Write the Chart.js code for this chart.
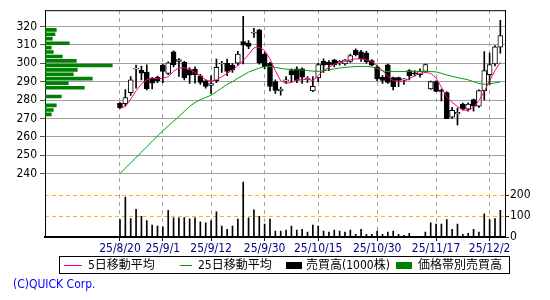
<!DOCTYPE html>
<html>
<head>
<meta charset="utf-8">
<script src="https://cdn.jsdelivr.net/npm/chart.js@4/dist/chart.umd.min.js"></script>
<style>
  body { margin: 0; background: #fff; }
  #wrap { position: relative; width: 550px; height: 300px; }
  #legend { position: absolute; left: 59px; top: 256px; width: 449px; height: 16px; border: 1px solid #000;
            font: 12px 'Liberation Sans Narrow', 'DejaVu Sans Condensed', 'Noto Sans CJK JP', sans-serif; }
  #legend span { position: absolute; top: 0; line-height: 16px; white-space: nowrap; }
  #legend i { position: absolute; display: block; }
  #copy { position: absolute; left: 13px; top: 277px; color: #0000ff;
          font: 12px 'Liberation Sans Narrow', 'DejaVu Sans Condensed', sans-serif; }
</style>
</head>
<body>
<div id="wrap">
  <canvas id="chart" width="550" height="300"></canvas>
  <div id="legend"></div>
  <div id="copy">(C)QUICK Corp.</div>
</div>
<script>
// trading days, 25/8/20 .. 25/12/4
const dates = [
  '25/8/20','25/8/21','25/8/22','25/8/25','25/8/26','25/8/27','25/8/28','25/8/29',
  '25/9/1','25/9/2','25/9/3','25/9/4','25/9/5','25/9/8','25/9/9','25/9/10','25/9/11','25/9/12',
  '25/9/16','25/9/17','25/9/18','25/9/19','25/9/22','25/9/24','25/9/25','25/9/26','25/9/29','25/9/30',
  '25/10/1','25/10/2','25/10/3','25/10/6','25/10/7','25/10/8','25/10/9','25/10/10','25/10/14','25/10/15',
  '25/10/16','25/10/17','25/10/20','25/10/21','25/10/22','25/10/23','25/10/24','25/10/27','25/10/28',
  '25/10/29','25/10/30','25/10/31',
  '25/11/4','25/11/5','25/11/6','25/11/7','25/11/10','25/11/11','25/11/12','25/11/13','25/11/14',
  '25/11/17','25/11/18','25/11/19','25/11/20','25/11/21','25/11/25','25/11/26','25/11/27','25/11/28',
  '25/12/1','25/12/2','25/12/3','25/12/4'
];
const tickDates = ['25/8/20','25/9/1','25/9/12','25/9/30','25/10/15','25/10/30','25/11/17','25/12/2'];

const open  = [278.3,278.0,284.0,296.8,296.2,295.2,291.8,292.4,299.0,294.5,306.2,301.0,300.5,296.5,296.8,293.2,290.5,288.0,
               290.5,299.6,300.0,299.0,300.0,311.8,311.0,316.3,318.2,305.0,300.0,290.0,285.0,290.4,296.0,297.0,297.0,291.2,
               285.0,292.0,301.0,300.5,301.8,300.2,299.6,301.0,307.0,306.2,305.5,301.5,298.0,292.4,299.1,292.2,292.2,291.0,
               296.0,294.6,293.8,295.6,286.0,290.0,285.2,284.0,270.7,272.5,277.8,275.0,280.2,276.7,285.1,293.8,299.6,308.7];
const high  = [278.6,285.7,292.8,299.0,298.5,299.2,292.4,293.0,299.5,300.8,306.8,302.5,301.0,297.5,298.0,294.0,291.0,293.2,
               302.3,301.0,302.3,299.8,306.5,325.5,312.3,319.0,318.5,306.0,300.5,291.0,287.0,292.7,297.0,298.0,297.5,292.7,
               292.7,300.0,302.4,301.5,302.2,301.5,302.0,305.0,307.8,307.0,306.5,302.0,299.0,293.3,299.5,292.5,292.5,291.6,
               296.5,296.0,297.0,299.6,290.3,290.5,286.0,284.5,276.0,275.6,278.3,278.5,280.5,285.5,306.4,305.5,309.6,323.3];
const low   = [275.4,277.0,282.5,286.5,291.0,285.5,286.0,289.5,289.5,293.8,298.0,292.8,291.0,289.0,289.2,288.5,286.5,283.5,
               289.5,295.0,293.3,295.0,299.0,299.7,308.0,314.0,299.5,297.0,285.0,283.6,282.7,289.0,289.6,289.5,289.0,289.6,
               284.5,290.0,295.0,296.0,298.0,299.0,299.0,300.5,304.0,301.0,300.0,298.5,290.5,289.0,289.0,285.5,287.3,288.5,
               291.0,293.0,292.5,295.0,285.8,284.5,279.5,269.8,270.0,266.5,274.5,274.0,274.0,276.0,280.0,288.4,298.5,305.5];
const close = [275.8,281.3,291.0,297.2,294.6,286.2,289.2,290.4,295.5,300.2,299.3,302.0,292.2,293.5,293.8,289.6,287.4,289.0,
               297.8,300.0,295.5,296.4,305.0,309.8,309.2,316.8,300.2,298.2,287.4,285.2,286.0,291.0,293.8,290.6,292.4,291.5,
               287.4,299.3,299.0,299.3,299.3,301.0,301.8,304.2,304.7,302.4,300.8,299.0,291.5,290.6,289.6,287.3,290.6,291.3,
               293.3,294.2,295.6,299.3,290.0,284.7,284.7,269.8,274.4,273.3,275.0,277.8,276.7,285.1,296.0,299.3,309.0,315.0];
// volume, 1000 shares
const volume = [83,190,88,132,98,78,57,52,49,127,91,91,92,87,91,72,67,78,120,52,37,52,86,262,91,130,99,62,86,28,
                28,33,52,33,37,23,57,52,28,23,33,28,23,33,13,37,13,13,28,13,23,28,13,8,18,3,3,23,67,62,
                62,83,37,62,13,18,37,23,111,83,88,127];
// moving averages
const ma5 = [275.5,276.4,280.5,285.0,288.7,291.0,292.0,291.5,291.8,292.7,295.6,297.5,297.5,296.7,295.0,293.3,290.9,290.2,
             291.0,292.7,294.5,296.4,298.7,301.5,304.7,308.4,308.7,306.9,302.4,296.0,290.5,289.0,289.6,291.0,291.0,291.5,
             290.5,293.3,296.0,297.8,299.6,300.0,301.0,301.8,302.4,302.4,301.8,301.0,298.7,296.0,292.9,290.5,290.2,290.2,
             291.5,293.3,294.5,295.0,294.5,292.0,287.0,281.5,278.7,276.4,274.7,274.2,276.0,279.6,284.7,290.5,296.0,300.5];
const ma25 = [240.0,242.9,245.8,248.7,251.6,254.6,257.5,260.4,263.3,265.9,268.4,271.0,273.8,276.5,278.6,280.2,281.4,282.6,
              284.5,286.5,288.5,290.0,291.8,293.5,295.2,296.3,297.4,298.2,298.3,297.8,297.2,296.8,296.6,296.5,296.3,296.0,
              295.7,295.6,295.9,296.4,296.9,297.4,297.8,298.0,298.2,298.3,298.3,298.0,297.2,295.9,295.5,295.5,295.5,295.5,
              295.6,295.6,295.6,295.6,295.5,295.3,294.5,293.6,292.9,292.2,291.6,291.0,290.0,289.0,288.6,288.8,289.3,289.8];
// volume by price band
const bandPrice  = [318.2,315.8,313.4,310.9,308.5,306.1,303.7,301.3,298.8,296.4,294.0,291.6,289.2,286.7,284.3,281.9,279.5,277.1,274.6,272.2];
const bandVolume = [113,100,73,243,63,83,173,313,673,323,283,473,233,393,0,163,0,113,83,63];

const priceTicks = [240,250,260,270,280,290,300,310,320];
const volTicks = [0,100,200];

const FONT = "'Liberation Sans Narrow', 'DejaVu Sans Condensed', sans-serif";
Chart.defaults.font.family = FONT;
Chart.defaults.font.size = 12;

const bodyColors = open.map((o, i) => close[i] >= o ? '#ffffff' : '#000000');

const frame = {
  id: 'frame',
  afterDraw(chart) {
    const {ctx, chartArea: a} = chart;
    ctx.save();
    ctx.strokeStyle = '#000';
    ctx.lineWidth = 1;
    ctx.beginPath();
    ctx.moveTo(a.left, a.top + 0.5);
    ctx.lineTo(a.right, a.top + 0.5);
    ctx.stroke();
    ctx.restore();
  }
};

const chart = new Chart(document.getElementById('chart'), {
  type: 'line',
  data: {
    datasets: [
      { type: 'line', label: '5日移動平均', data: ma5.map((v, i) => ({x: i, y: v})),
        borderColor: '#ff0080', borderWidth: 1, pointRadius: 0, tension: 0, order: 0 },
      { type: 'line', label: '25日移動平均', data: ma25.map((v, i) => ({x: i, y: v})),
        borderColor: '#00a000', borderWidth: 1, pointRadius: 0, tension: 0, order: 0 },
      { type: 'bar', label: 'body', data: open.map((o, i) => ({x: i, y: [o, close[i]]})),
        backgroundColor: bodyColors, borderColor: '#000', borderWidth: 1, borderSkipped: false,
        barThickness: 5, minBarLength: 1, grouped: false, order: 1 },
      { type: 'bar', label: 'wick', data: low.map((l, i) => ({x: i, y: [l, high[i]]})),
        backgroundColor: '#000', barThickness: 1, grouped: false, order: 2 },
      { type: 'bar', label: '売買高(1000株)', yAxisID: 'y2', data: volume.map((v, i) => ({x: i, y: v})),
        backgroundColor: '#000', barThickness: 1, grouped: false, order: 3 },
      { type: 'bar', label: '価格帯別売買高', indexAxis: 'y', xAxisID: 'xh', yAxisID: 'y',
        data: bandPrice.map((p, k) => ({x: bandVolume[k], y: p})),
        backgroundColor: '#008000', barThickness: 3, grouped: false, order: 4 }
    ]
  },
  options: {
    responsive: false,
    animation: false,
    devicePixelRatio: 1,
    layout: { padding: { top: 10, left: 0, right: 0, bottom: 0 } },
    plugins: { legend: { display: false }, tooltip: { enabled: false } },
    scales: {
      x: {
        type: 'linear', min: -14, max: 71.87, offset: false,
        afterBuildTicks: s => { s.ticks = tickDates.map(d => ({value: dates.indexOf(d)})); },
        afterFit: s => { s.height = 63; },
        ticks: { color: '#000080', autoSkip: false, maxRotation: 0, padding: 1, callback: v => dates[v] },
        grid: { offset: false, color: '#a0a0a0', tickColor: '#000080', tickLength: 4, tickBorderDash: [] },
        border: { color: '#000', width: 2, dash: [4, 4] }
      },
      xh: { type: 'linear', display: false, min: 0, max: 4600, offset: false, grid: { offset: false } },
      y: {
        type: 'linear', position: 'left', min: 205.5, max: 328.86, offset: false, grace: 0,
        afterBuildTicks: s => { s.ticks = priceTicks.map(v => ({value: v})); },
        afterFit: s => { s.width = 45; },
        ticks: { color: '#000', padding: 3 },
        grid: { offset: false, color: '#a0a0a0', tickColor: '#555', tickLength: 5 },
        border: { color: '#000', width: 1 }
      },
      y2: {
        type: 'linear', position: 'right', min: 0, max: 1081, offset: false,
        afterBuildTicks: s => { s.ticks = volTicks.map(v => ({value: v})); },
        afterFit: s => { s.width = 45; },
        ticks: { color: '#000', padding: 1 },
        grid: { offset: false, color: '#f0c000', tickColor: '#800000', tickLength: 4, tickBorderDash: [] },
        border: { color: '#000', width: 1, dash: [4, 3] }
      }
    }
  },
  plugins: [frame]
});

// legend built from the chart's datasets
const legendItems = [
  { label: '5日移動平均', x: 4, w: 18, text: 28, kind: 'line' },
  { label: '25日移動平均', x: 120, w: 12, text: 138, kind: 'line' },
  { label: '売買高(1000株)', x: 226, w: 16, text: 246, kind: 'box' },
  { label: '価格帯別売買高', x: 336, w: 16, text: 358, kind: 'box' }
];
const legend = document.getElementById('legend');
legendItems.forEach(it => {
  const ds = chart.data.datasets.find(d => d.label === it.label);
  const sw = document.createElement('i');
  if (it.kind === 'line') {
    sw.style.cssText = `left:${it.x}px;top:8px;width:${it.w}px;height:1px;background:${ds.borderColor}`;
  } else {
    sw.style.cssText = `left:${it.x}px;top:5px;width:${it.w}px;height:7px;background:${ds.backgroundColor}`;
  }
  legend.appendChild(sw);
  const t = document.createElement('span');
  t.style.left = it.text + 'px';
  t.textContent = ds.label;
  legend.appendChild(t);
});
</script>
</body>
</html>
